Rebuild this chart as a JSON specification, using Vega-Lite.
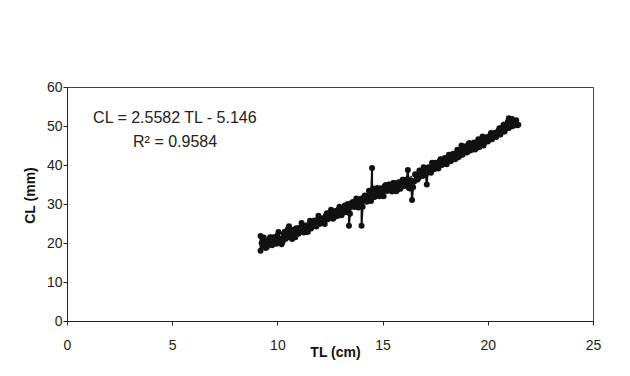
{
  "$schema": "https://vega.github.io/schema/vega-lite/v6.json",
  "width": 526,
  "height": 234,
  "autosize": {"type": "none"},
  "padding": {"left": 67, "top": 87, "right": 37, "bottom": 55},
  "background": "white",
  "config": {
    "font": "Liberation Sans",
    "view": {"stroke": "#444", "strokeWidth": 1},
    "axis": {"grid": false, "domainColor": "#222", "tickColor": "#222", "labelColor": "#222", "titleColor": "#111", "labelFont": "Liberation Sans", "titleFont": "Liberation Sans", "labelOverlap": false}
  },
  "datasets": {
    "pts": [
      {"TL": 9.2, "CL": 21.8}, {"TL": 9.2, "CL": 18.0}, {"TL": 9.3, "CL": 21.2}, {"TL": 9.3, "CL": 19.5},
      {"TL": 9.4, "CL": 20.3}, {"TL": 9.5, "CL": 19.0}, {"TL": 9.6, "CL": 20.8}, {"TL": 9.7, "CL": 19.6},
      {"TL": 9.8, "CL": 21.5}, {"TL": 9.9, "CL": 20.2}, {"TL": 10.0, "CL": 21.9}, {"TL": 10.1, "CL": 20.6},
      {"TL": 10.2, "CL": 19.7}, {"TL": 10.3, "CL": 22.4}, {"TL": 10.4, "CL": 21.1}, {"TL": 10.5, "CL": 23.6},
      {"TL": 10.5, "CL": 21.8}, {"TL": 10.6, "CL": 22.3}, {"TL": 10.7, "CL": 21.0}, {"TL": 10.8, "CL": 22.9},
      {"TL": 10.9, "CL": 23.8}, {"TL": 11.0, "CL": 22.4}, {"TL": 11.1, "CL": 24.0}, {"TL": 11.2, "CL": 23.0},
      {"TL": 11.3, "CL": 23.9}, {"TL": 11.4, "CL": 22.8}, {"TL": 11.5, "CL": 24.6}, {"TL": 11.6, "CL": 23.7},
      {"TL": 11.7, "CL": 25.4}, {"TL": 11.8, "CL": 24.5}, {"TL": 11.9, "CL": 25.9}, {"TL": 12.0, "CL": 24.9},
      {"TL": 12.1, "CL": 26.3}, {"TL": 12.2, "CL": 25.6}, {"TL": 12.3, "CL": 27.0}, {"TL": 12.4, "CL": 26.1},
      {"TL": 12.5, "CL": 26.9}, {"TL": 12.6, "CL": 27.7}, {"TL": 12.7, "CL": 26.6}, {"TL": 12.8, "CL": 27.9},
      {"TL": 12.9, "CL": 28.6}, {"TL": 13.0, "CL": 27.5}, {"TL": 13.1, "CL": 28.9}, {"TL": 13.2, "CL": 29.6},
      {"TL": 13.3, "CL": 28.2}, {"TL": 13.4, "CL": 29.0}, {"TL": 13.4, "CL": 24.4}, {"TL": 13.5, "CL": 29.8},
      {"TL": 13.6, "CL": 30.5}, {"TL": 13.7, "CL": 29.4}, {"TL": 13.8, "CL": 31.0}, {"TL": 13.9, "CL": 30.2},
      {"TL": 14.0, "CL": 31.4}, {"TL": 14.0, "CL": 24.4}, {"TL": 14.1, "CL": 30.9}, {"TL": 14.2, "CL": 32.0},
      {"TL": 14.3, "CL": 31.2}, {"TL": 14.4, "CL": 32.6}, {"TL": 14.5, "CL": 39.2}, {"TL": 14.5, "CL": 33.0},
      {"TL": 14.6, "CL": 31.8}, {"TL": 14.7, "CL": 33.5}, {"TL": 14.8, "CL": 32.4}, {"TL": 14.9, "CL": 34.0},
      {"TL": 15.0, "CL": 33.0}, {"TL": 15.1, "CL": 34.6}, {"TL": 15.2, "CL": 33.4}, {"TL": 15.3, "CL": 35.0},
      {"TL": 15.4, "CL": 33.9}, {"TL": 15.5, "CL": 35.4}, {"TL": 15.6, "CL": 34.2}, {"TL": 15.7, "CL": 33.6},
      {"TL": 15.8, "CL": 35.6}, {"TL": 15.9, "CL": 34.8}, {"TL": 16.0, "CL": 36.2}, {"TL": 16.1, "CL": 35.0},
      {"TL": 16.2, "CL": 38.7}, {"TL": 16.3, "CL": 34.0}, {"TL": 16.4, "CL": 31.0}, {"TL": 16.5, "CL": 35.8},
      {"TL": 16.6, "CL": 37.5}, {"TL": 16.7, "CL": 36.6}, {"TL": 16.8, "CL": 38.4}, {"TL": 16.9, "CL": 37.2},
      {"TL": 17.0, "CL": 38.9}, {"TL": 17.1, "CL": 35.0}, {"TL": 17.2, "CL": 39.4}, {"TL": 17.3, "CL": 38.0},
      {"TL": 17.4, "CL": 39.8}, {"TL": 17.5, "CL": 40.6}, {"TL": 17.6, "CL": 39.2}, {"TL": 17.7, "CL": 40.9},
      {"TL": 17.8, "CL": 40.0}, {"TL": 17.9, "CL": 41.5}, {"TL": 18.0, "CL": 40.5}, {"TL": 18.1, "CL": 42.0},
      {"TL": 18.2, "CL": 41.0}, {"TL": 18.3, "CL": 42.4}, {"TL": 18.4, "CL": 41.6}, {"TL": 18.5, "CL": 42.9},
      {"TL": 18.6, "CL": 42.0}, {"TL": 18.7, "CL": 43.4}, {"TL": 18.8, "CL": 42.6}, {"TL": 18.9, "CL": 44.5},
      {"TL": 19.0, "CL": 43.2}, {"TL": 19.1, "CL": 45.6}, {"TL": 19.2, "CL": 43.8}, {"TL": 19.3, "CL": 44.9},
      {"TL": 19.4, "CL": 44.0}, {"TL": 19.5, "CL": 45.7}, {"TL": 19.6, "CL": 44.6}, {"TL": 19.7, "CL": 46.2},
      {"TL": 19.8, "CL": 45.0}, {"TL": 19.9, "CL": 46.8}, {"TL": 20.0, "CL": 46.0}, {"TL": 20.1, "CL": 47.5},
      {"TL": 20.2, "CL": 46.6}, {"TL": 20.3, "CL": 48.1}, {"TL": 20.4, "CL": 47.2}, {"TL": 20.5, "CL": 48.8},
      {"TL": 20.6, "CL": 47.8}, {"TL": 20.7, "CL": 49.6}, {"TL": 20.8, "CL": 48.6}, {"TL": 20.9, "CL": 50.4},
      {"TL": 21.0, "CL": 52.0}, {"TL": 21.0, "CL": 49.5}, {"TL": 21.1, "CL": 51.2}, {"TL": 21.2, "CL": 50.0},
      {"TL": 21.3, "CL": 51.0}, {"TL": 21.4, "CL": 50.2},
      {"TL": 9.25, "CL": 20.0}, {"TL": 9.35, "CL": 21.4}, {"TL": 9.45, "CL": 18.7}, {"TL": 9.55, "CL": 20.5},
      {"TL": 9.65, "CL": 21.5}, {"TL": 9.75, "CL": 19.4}, {"TL": 9.85, "CL": 21.4}, {"TL": 9.95, "CL": 19.8},
      {"TL": 10.05, "CL": 22.8}, {"TL": 10.15, "CL": 21.1}, {"TL": 10.25, "CL": 20.3}, {"TL": 10.35, "CL": 22.9},
      {"TL": 10.45, "CL": 21.4}, {"TL": 10.55, "CL": 24.3}, {"TL": 10.65, "CL": 21.4}, {"TL": 10.75, "CL": 23.4},
      {"TL": 10.85, "CL": 21.5}, {"TL": 10.95, "CL": 23.7}, {"TL": 11.05, "CL": 22.7}, {"TL": 11.15, "CL": 25.1},
      {"TL": 11.25, "CL": 22.7}, {"TL": 11.35, "CL": 24.5}, {"TL": 11.45, "CL": 22.9}, {"TL": 11.55, "CL": 25.7},
      {"TL": 11.65, "CL": 24.2}, {"TL": 11.75, "CL": 25.8}, {"TL": 11.85, "CL": 24.2}, {"TL": 11.95, "CL": 27.0},
      {"TL": 12.05, "CL": 25.1}, {"TL": 12.15, "CL": 26.3}, {"TL": 12.25, "CL": 24.9}, {"TL": 12.35, "CL": 27.6},
      {"TL": 12.45, "CL": 26.5}, {"TL": 12.55, "CL": 28.5}, {"TL": 12.65, "CL": 26.2}, {"TL": 12.75, "CL": 28.2},
      {"TL": 12.85, "CL": 26.9}, {"TL": 12.95, "CL": 29.3}, {"TL": 13.05, "CL": 27.1}, {"TL": 13.15, "CL": 29.0},
      {"TL": 13.25, "CL": 27.9}, {"TL": 13.35, "CL": 30.0}, {"TL": 13.45, "CL": 27.5}, {"TL": 13.55, "CL": 30.4},
      {"TL": 13.65, "CL": 29.2}, {"TL": 13.75, "CL": 31.4}, {"TL": 13.85, "CL": 29.1}, {"TL": 13.95, "CL": 31.2},
      {"TL": 14.05, "CL": 29.3}, {"TL": 14.15, "CL": 32.2}, {"TL": 14.25, "CL": 30.6}, {"TL": 14.35, "CL": 33.4},
      {"TL": 14.45, "CL": 30.8}, {"TL": 14.55, "CL": 34.0}, {"TL": 14.65, "CL": 31.9}, {"TL": 14.75, "CL": 34.1},
      {"TL": 14.85, "CL": 32.0}, {"TL": 14.95, "CL": 34.0}, {"TL": 15.05, "CL": 32.0}, {"TL": 15.15, "CL": 34.9},
      {"TL": 15.25, "CL": 33.4}, {"TL": 15.35, "CL": 34.3}, {"TL": 15.45, "CL": 33.2}, {"TL": 15.55, "CL": 35.4},
      {"TL": 15.65, "CL": 33.3}, {"TL": 15.75, "CL": 35.5}, {"TL": 15.85, "CL": 33.9}, {"TL": 15.95, "CL": 36.2},
      {"TL": 16.05, "CL": 34.6}, {"TL": 16.15, "CL": 36.3}, {"TL": 16.25, "CL": 34.1}, {"TL": 16.35, "CL": 36.1},
      {"TL": 16.45, "CL": 34.3}, {"TL": 16.55, "CL": 37.6}, {"TL": 16.65, "CL": 36.2}, {"TL": 16.75, "CL": 38.6},
      {"TL": 16.85, "CL": 37.5}, {"TL": 16.95, "CL": 39.4}, {"TL": 17.05, "CL": 37.5}, {"TL": 17.15, "CL": 39.3},
      {"TL": 17.25, "CL": 38.3}, {"TL": 17.35, "CL": 40.6}, {"TL": 17.45, "CL": 38.9}, {"TL": 17.55, "CL": 40.5},
      {"TL": 17.65, "CL": 39.1}, {"TL": 17.75, "CL": 41.5}, {"TL": 17.85, "CL": 40.1}, {"TL": 17.95, "CL": 41.8},
      {"TL": 18.05, "CL": 40.2}, {"TL": 18.15, "CL": 42.6}, {"TL": 18.25, "CL": 41.0}, {"TL": 18.35, "CL": 42.9},
      {"TL": 18.45, "CL": 41.5}, {"TL": 18.55, "CL": 43.9}, {"TL": 18.65, "CL": 42.3}, {"TL": 18.75, "CL": 45.0},
      {"TL": 18.85, "CL": 43.5}, {"TL": 18.95, "CL": 44.8}, {"TL": 19.05, "CL": 43.4}, {"TL": 19.15, "CL": 45.6},
      {"TL": 19.25, "CL": 44.3}, {"TL": 19.35, "CL": 45.8}, {"TL": 19.45, "CL": 44.3}, {"TL": 19.55, "CL": 46.6},
      {"TL": 19.65, "CL": 45.4}, {"TL": 19.75, "CL": 47.3}, {"TL": 19.85, "CL": 45.8}, {"TL": 19.95, "CL": 47.1},
      {"TL": 20.05, "CL": 46.5}, {"TL": 20.15, "CL": 48.2}, {"TL": 20.25, "CL": 47.2}, {"TL": 20.35, "CL": 48.3},
      {"TL": 20.45, "CL": 47.8}, {"TL": 20.55, "CL": 49.4}, {"TL": 20.65, "CL": 48.5}, {"TL": 20.75, "CL": 50.3},
      {"TL": 20.85, "CL": 49.3}, {"TL": 20.95, "CL": 51.1}, {"TL": 21.05, "CL": 49.9}, {"TL": 21.15, "CL": 51.8},
      {"TL": 21.25, "CL": 50.7}, {"TL": 21.35, "CL": 51.5}, {"TL": 21.45, "CL": 50.3}
    ],
    "notes": [
      {"TL": 1.24, "CL": 52.1, "label": "CL = 2.5582 TL - 5.146"},
      {"TL": 3.14, "CL": 45.9, "label": "R² = 0.9584"}
    ]
  },
  "encoding": {
    "x": {"field": "TL", "type": "quantitative", "scale": {"domain": [0, 25], "nice": false},
      "axis": {"values": [0, 5, 10, 15, 20, 25], "tickSize": 4, "labelPadding": 13, "labelFontSize": 14, "labelFlush": false, "labelOverlap": false, "title": "TL (cm)", "titleFontSize": 14, "titleFontWeight": "bold", "titleX": 268, "titleY": 31, "titleBaseline": "middle", "titleAlign": "center"}},
    "y": {"field": "CL", "type": "quantitative", "scale": {"domain": [0, 60], "nice": false},
      "axis": {"values": [0, 10, 20, 30, 40, 50, 60], "tickCount": 7, "tickSize": 4, "labelPadding": 1, "labelFontSize": 14, "labelFlush": false, "labelOverlap": false, "title": "CL (mm)", "titleFontSize": 14, "titleFontWeight": "bold", "titleAngle": -90, "titleX": -37, "titleY": 108, "titleBaseline": "middle", "titleAlign": "center"}}
  },
  "layer": [
    {
      "data": {"name": "pts"},
      "mark": {"type": "line", "color": "#111", "strokeWidth": 2}
    },
    {
      "data": {"name": "pts"},
      "mark": {"type": "point", "shape": "circle", "filled": true, "color": "#111", "size": 36, "opacity": 1}
    },
    {
      "data": {"name": "pts"},
      "transform": [{"regression": "CL", "on": "TL"}],
      "mark": {"type": "line", "color": "#111", "strokeWidth": 1}
    },
    {
      "data": {"name": "notes"},
      "mark": {"type": "text", "align": "left", "baseline": "middle", "fontSize": 16, "color": "#222", "font": "Liberation Sans"},
      "encoding": {
        "text": {"field": "label"}
      }
    }
  ]
}
